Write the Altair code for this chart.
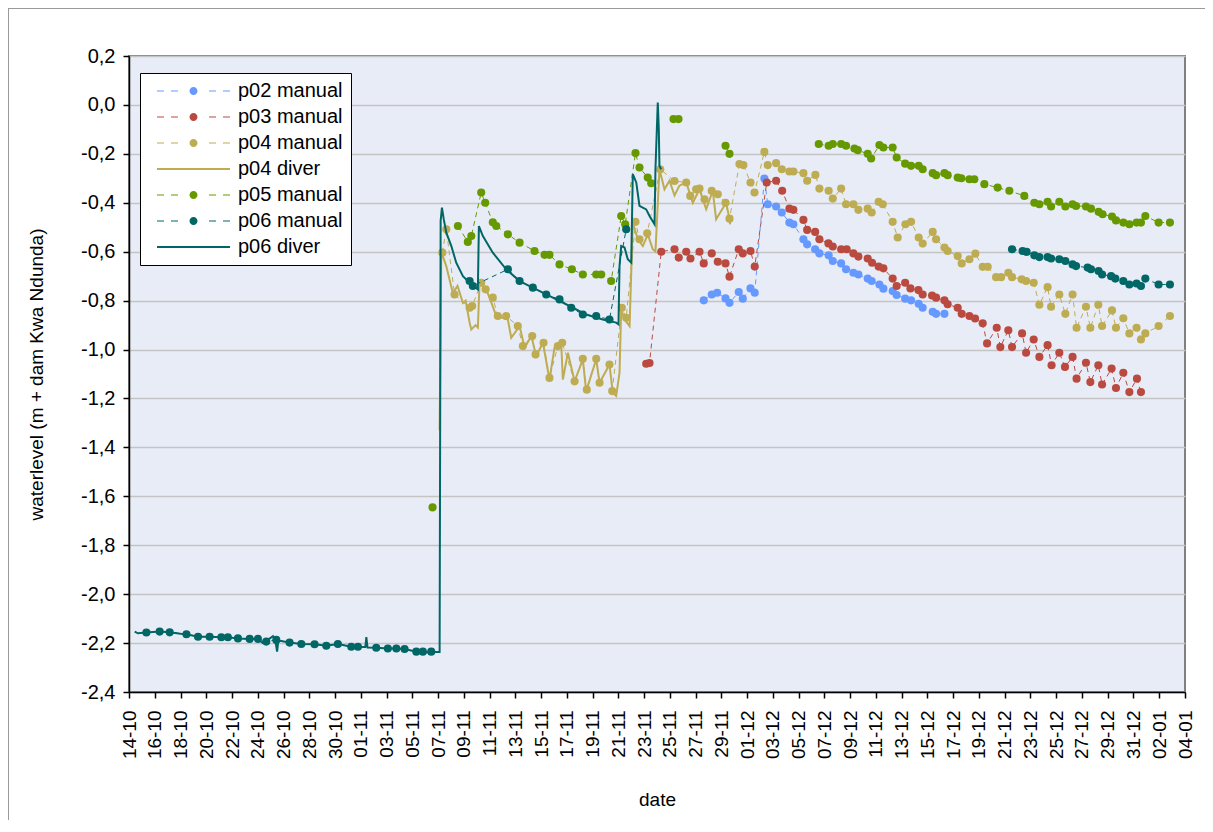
import altair as alt
import pandas as pd

START = pd.Timestamp("2007-10-14")

SERIES = ["p02 manual", "p03 manual", "p04 manual", "p04 diver", "p05 manual", "p06 manual", "p06 diver"]
COLORS = ["#6699FF", "#BA4A3F", "#BEAC52", "#BEAC52", "#669900", "#006666", "#006666"]

# (days since 14-10, waterlevel)
p02_manual = [(44.63,-0.799),(45.25,-0.775),(45.67,-0.768),(46.32,-0.791),(46.63,-0.809),(47.35,-0.765),(47.66,-0.792),
              (48.26,-0.75),(48.59,-0.768),(49.34,-0.301),(49.60,-0.406),(50.25,-0.415),(50.69,-0.44),(51.28,-0.481),
              (51.59,-0.488),(52.37,-0.549),(52.66,-0.57),(53.28,-0.59),(53.61,-0.607),(54.33,-0.615),(54.65,-0.638),
              (55.30,-0.648),(55.68,-0.672),(56.25,-0.686),(56.64,-0.693),(57.36,-0.71),(57.67,-0.72),(58.27,-0.734),
              (58.58,-0.751),(59.30,-0.761),(59.61,-0.777),(60.27,-0.792),(60.73,-0.799),(61.32,-0.813),(61.63,-0.829),
              (62.41,-0.846),(62.67,-0.854),(63.32,-0.854)]

p03_manual = [(40.16,-1.058),(40.42,-1.055),(41.33,-0.60),(42.36,-0.59),(42.69,-0.624),(43.27,-0.60),(43.60,-0.628),
              (44.30,-0.60),(44.63,-0.648),(45.25,-0.607),(45.72,-0.641),(46.32,-0.648),(46.63,-0.702),(47.35,-0.59),
              (47.66,-0.607),(48.26,-0.597),(48.59,-0.661),(49.52,-0.317),(50.25,-0.31),(50.72,-0.351),(51.28,-0.424),
              (51.59,-0.429),(52.37,-0.47),(52.66,-0.511),(53.28,-0.519),(53.61,-0.549),(54.31,-0.566),(54.65,-0.579),
              (55.30,-0.59),(55.73,-0.59),(56.25,-0.607),(56.64,-0.62),(57.36,-0.628),(57.70,-0.645),(58.21,-0.661),
              (58.58,-0.668),(59.30,-0.71),(59.61,-0.74),(60.27,-0.727),(60.68,-0.75),(61.30,-0.757),(61.63,-0.775),
              (62.36,-0.779),(62.67,-0.788),(63.32,-0.799),(63.57,-0.815),(64.35,-0.829),(64.66,-0.854),(65.26,-0.863),
              (65.70,-0.873),(66.29,-0.893),(66.63,-0.975),(67.38,-0.911),(67.66,-0.99),(68.28,-0.921),(68.57,-0.99),
              (69.35,-0.934),(69.66,-1.013),(70.25,-0.959),(70.69,-1.03),(71.33,-0.982),(71.64,-1.064),(72.24,-1.013),
              (72.68,-1.071),(73.27,-1.03),(73.58,-1.119),(74.31,-1.054),(74.65,-1.133),(75.27,-1.064),(75.56,-1.143),
              (76.30,-1.078),(76.64,-1.157),(77.21,-1.095),(77.68,-1.174),(78.27,-1.119),(78.58,-1.174)]

p04_manual = [(24.33,-0.604),(24.64,-0.508),(25.28,-0.775),(26.45,-0.829),(26.65,-0.822),(27.35,-0.727),(27.69,-0.754),
              (28.25,-0.788),(28.64,-0.863),(29.29,-0.863),(30.19,-0.904),(30.58,-0.986),(31.31,-0.945),(31.57,-1.02),
              (32.19,-0.972),(32.65,-1.116),(33.30,-0.986),(33.64,-0.972),(34.60,-1.13),(35.24,-1.038),(35.55,-1.164),
              (36.28,-1.038),(36.54,-1.136),(37.31,-1.061),(37.52,-1.17),(38.27,-0.829),(38.61,-0.87),(39.33,-0.478),
              (39.64,-0.549),(40.24,-0.525),(41.25,-0.263),(42.36,-0.311),(43.27,-0.317),(43.58,-0.372),(44.04,-0.345),
              (44.30,-0.342),(44.69,-0.386),(45.25,-0.351),(45.72,-0.365),(46.32,-0.40),(46.63,-0.465),(47.40,-0.242),
              (47.71,-0.246),(48.26,-0.317),(48.57,-0.358),(49.34,-0.192),(49.60,-0.246),(50.25,-0.238),(50.69,-0.263),
              (51.28,-0.272),(51.59,-0.272),(52.37,-0.279),(52.66,-0.31),(53.30,-0.286),(53.61,-0.342),(54.33,-0.351),
              (54.65,-0.383),(55.30,-0.342),(55.68,-0.406),(56.25,-0.406),(56.64,-0.429),(57.36,-0.424),(57.67,-0.44),
              (58.21,-0.396),(58.53,-0.406),(59.30,-0.478),(59.69,-0.542),(60.29,-0.488),(60.73,-0.478),(61.32,-0.542),
              (61.63,-0.567),(62.41,-0.519),(62.67,-0.549),(63.32,-0.583),(63.57,-0.597),(64.35,-0.618),(64.66,-0.648),
              (65.26,-0.631),(65.72,-0.608),(66.29,-0.662),(66.68,-0.662),(67.33,-0.704),(67.72,-0.704),(68.28,-0.686),
              (68.57,-0.704),(69.32,-0.713),(69.66,-0.72),(70.25,-0.727),(70.69,-0.817),(71.33,-0.745),(71.60,-0.825),
              (72.24,-0.775),(72.71,-0.854),(73.27,-0.775),(73.58,-0.911),(74.31,-0.825),(74.65,-0.911),(75.27,-0.817),
              (75.56,-0.904),(76.33,-0.84),(76.64,-0.911),(77.21,-0.872),(77.68,-0.934),(78.24,-0.911),(78.58,-0.959),
              (78.92,-0.934),(79.95,-0.904),(80.83,-0.863)]

p04_diver = [(24.12,-1.33),(24.25,-0.60),(24.64,-0.66),(25.15,-0.77),(25.51,-0.74),(25.93,-0.81),(26.14,-0.80),
             (26.45,-0.89),(26.58,-0.918),(26.91,-0.90),(27.09,-0.91),(27.22,-0.727),(27.74,-0.754),(28.08,-0.80),
             (28.52,-0.863),(29.42,-0.877),(29.68,-0.952),(30.33,-0.904),(30.72,-0.993),(31.24,-0.945),(31.62,-1.027),
             (32.14,-0.972),(32.65,-1.123),(33.04,-0.993),(33.56,-0.972),(33.69,-1.123),(34.08,-1.013),(34.60,-1.13),
             (35.24,-1.04),(35.50,-1.17),(36.28,-1.04),(36.54,-1.136),(37.31,-1.061),(37.57,-1.177),(37.83,-1.19),
             (38.09,-1.095),(38.22,-0.836),(38.48,-0.877),(38.87,-0.904),(39.12,-0.481),(39.51,-0.549),(39.90,-0.577),
             (40.29,-0.529),(40.67,-0.59),(40.88,-0.60),(41.19,-0.263),(41.58,-0.345),(41.97,-0.31),(42.36,-0.37),
             (42.74,-0.33),(43.27,-0.317),(43.78,-0.40),(44.30,-0.345),(44.82,-0.426),(45.33,-0.351),(45.59,-0.467),
             (46.37,-0.40),(46.63,-0.467),(46.68,-0.488)]

p05_manual = [(23.57,-1.645),(25.54,-0.495),(26.31,-0.56),(26.58,-0.536),(27.35,-0.358),(27.66,-0.40),(28.25,-0.48),
              (28.52,-0.495),(29.42,-0.529),(30.33,-0.563),(31.49,-0.597),(32.27,-0.613),(32.65,-0.613),(33.43,-0.652),
              (34.39,-0.672),(35.24,-0.693),(36.28,-0.693),(36.67,-0.693),(37.44,-0.72),(38.22,-0.454),(38.53,-0.488),
              (39.33,-0.197),(39.64,-0.256),(40.28,-0.297),(40.55,-0.32),(42.28,-0.058),(42.67,-0.058),(46.32,-0.167),
              (46.63,-0.20),(53.56,-0.16),(54.33,-0.167),(54.65,-0.16),(55.30,-0.16),(55.68,-0.167),(56.33,-0.178),
              (56.59,-0.185),(57.36,-0.20),(57.63,-0.219),(58.27,-0.164),(58.58,-0.174),(59.30,-0.174),(59.61,-0.215),
              (60.27,-0.24),(60.73,-0.249),(61.32,-0.249),(61.63,-0.263),(62.41,-0.279),(62.67,-0.287),(63.32,-0.279),
              (63.57,-0.287),(64.35,-0.297),(64.63,-0.30),(65.26,-0.304),(65.64,-0.304),(66.42,-0.324),(67.45,-0.338),
              (68.36,-0.351),(69.52,-0.372),(70.30,-0.40),(70.69,-0.406),(71.33,-0.396),(71.60,-0.415),(72.24,-0.396),
              (72.71,-0.415),(73.27,-0.406),(73.54,-0.413),(74.31,-0.415),(74.70,-0.424),(75.29,-0.437),(75.60,-0.447),
              (76.33,-0.456),(76.64,-0.472),(77.21,-0.481),(77.68,-0.488),(78.24,-0.481),(78.58,-0.481),(78.92,-0.454),
              (79.95,-0.481),(80.83,-0.481)]
p05_breaks = [24.5, 41.5, 44.0, 50.0]

p06_manual = [(1.35,-2.157),(2.38,-2.153),(3.16,-2.156),(4.46,-2.164),(5.36,-2.174),(6.26,-2.174),(7.17,-2.176),
              (7.68,-2.176),(8.46,-2.181),(9.37,-2.183),(10.01,-2.183),(10.66,-2.194),(11.44,-2.187),(12.47,-2.198),
              (13.38,-2.204),(14.41,-2.205),(15.32,-2.211),(16.22,-2.204),(17.26,-2.215),(17.78,-2.215),(19.20,-2.219),
              (20.10,-2.222),(20.76,-2.222),(21.40,-2.224),(22.31,-2.235),(22.82,-2.235),(23.47,-2.235),
              (26.45,-0.72),(26.70,-0.74),(29.42,-0.672),(30.33,-0.72),(31.36,-0.747),(32.40,-0.775),(33.43,-0.795),
              (34.34,-0.829),(35.24,-0.857),(36.28,-0.863),(37.31,-0.877),(38.61,-0.508),
              (68.57,-0.59),(69.39,-0.597),(69.70,-0.601),(70.30,-0.615),(70.69,-0.622),(71.33,-0.622),(71.60,-0.628),
              (72.24,-0.631),(72.71,-0.638),(73.27,-0.652),(73.54,-0.659),(74.44,-0.665),(74.70,-0.672),(75.29,-0.679),
              (75.56,-0.693),(76.26,-0.70),(76.59,-0.71),(77.21,-0.72),(77.68,-0.734),(78.24,-0.73),(78.58,-0.74),
              (78.92,-0.71),(79.95,-0.734),(80.83,-0.734)]
p06_breaks = [25.0, 50.0]

p06_diver = [(0.44,-2.153),(0.7,-2.16),(1.35,-2.157),(2.38,-2.153),(3.16,-2.156),(4.0,-2.162),(4.46,-2.164),
             (5.36,-2.174),(6.26,-2.174),(7.17,-2.176),(7.68,-2.176),(8.46,-2.181),(9.37,-2.183),(10.01,-2.183),
             (10.4,-2.2),(10.7,-2.19),(11.18,-2.172),(11.35,-2.186),(11.5,-2.235),(11.6,-2.19),(12.47,-2.198),
             (13.38,-2.204),(14.41,-2.205),(15.32,-2.211),(16.22,-2.204),(17.26,-2.215),(18.35,-2.216),(18.43,-2.176),
             (18.52,-2.218),(19.2,-2.219),(20.1,-2.222),(20.76,-2.222),(21.4,-2.224),(21.9,-2.23),(22.31,-2.235),
             (22.82,-2.238),(23.47,-2.236),(24.12,-2.236),(24.2,-0.474),(24.3,-0.42),(24.45,-0.47),(24.64,-0.522),
             (25.03,-0.577),(25.41,-0.645),(25.93,-0.70),(26.45,-0.727),(27.09,-0.754),(27.17,-0.495),(27.48,-0.536),
             (28.25,-0.604),(29.29,-0.672),(30.33,-0.72),(31.62,-0.754),(32.91,-0.788),(34.21,-0.822),(35.50,-0.857),
             (36.79,-0.877),(37.83,-0.89),(38.01,-0.897),(38.09,-0.659),(38.22,-0.577),(38.48,-0.583),(38.73,-0.631),
             (39.0,-0.645),(39.12,-0.283),(39.39,-0.317),(39.64,-0.413),(40.16,-0.427),(40.42,-0.454),(40.81,-0.488),
             (40.88,-0.263),(41.06,0.01),(41.14,-0.099),(41.19,-0.249),(41.32,-0.263)]

Y_TICKS = [-2.4, -2.2, -2.0, -1.8, -1.6, -1.4, -1.2, -1.0, -0.8, -0.6, -0.4, -0.2, 0.0, 0.2]
TICK_DATES = pd.date_range("2007-10-14", "2008-01-04", freq="2D")


def frame(name, pairs, breaks=()):
    rows = []
    for d, v in pairs:
        seg = sum(1 for b in breaks if d > b)
        rows.append({"series": name, "date": START + pd.Timedelta(days=d), "value": v, "seg": seg})
    return rows


rows = []
rows += frame("p02 manual", p02_manual)
rows += frame("p03 manual", p03_manual)
rows += frame("p04 manual", p04_manual)
rows += frame("p04 diver", p04_diver)
rows += frame("p05 manual", p05_manual, p05_breaks)
rows += frame("p06 manual", p06_manual, p06_breaks)
rows += frame("p06 diver", p06_diver)
df = pd.DataFrame(rows)

FONT = "Liberation Sans"
# legend glyphs (filled paths, 1 unit = 5 px): dashed line with a dot, or a solid line
MANUAL_PATH = ("M-0.2,-0.1H1.2V0.1H-0.2Z M2.6,-0.1H4V0.1H2.6Z M10.2,-0.1H11.6V0.1H10.2Z M13,-0.1H14.4V0.1H13Z "
               "M6.3,0A0.8,0.8 0 1,1 7.9,0A0.8,0.8 0 1,1 6.3,0Z")
DIVER_PATH = "M-0.2,-0.2H14.4V0.2H-0.2Z"
SHAPES = [DIVER_PATH if "diver" in s else MANUAL_PATH for s in SERIES]

legend = alt.Legend(
    title=None, orient="none", legendX=11, legendY=17,
    fillColor="white", strokeColor="black", padding=8,
    labelFont=FONT, labelFontSize=20, labelColor="black", labelOffset=70,
    symbolSize=100, symbolStrokeWidth=0, symbolOpacity=1, rowPadding=6,
)

color_scale = alt.Scale(domain=SERIES, range=COLORS)
color_nolegend = alt.Color("series:N", scale=color_scale, legend=None)

x = alt.X("date:T",
          scale=alt.Scale(domain=[alt.DateTime(year=2007, month=10, date=14),
                                  alt.DateTime(year=2008, month=1, date=4)]),
          axis=alt.Axis(title="date", format="%d-%m", labelAngle=-90,
                        values=[alt.DateTime(year=t.year, month=t.month, date=t.day) for t in TICK_DATES],
                        grid=False, labelPadding=12, titlePadding=32, labelFontSize=19))
y = alt.Y("value:Q",
          scale=alt.Scale(domain=[-2.4, 0.2], nice=False, zero=False),
          axis=alt.Axis(title="waterlevel (m + dam Kwa Ndunda)", values=Y_TICKS,
                        labelExpr="replace(replace(format(datum.value, '.1f'), '.', ','), '\u2212', '-')",
                        grid=True, gridColor="#C4C4C4", gridWidth=1.5, labelPadding=8, titlePadding=34,
                        labelFontSize=20))

base = alt.Chart(df)
layers = []

border = alt.Chart(pd.DataFrame({"k": [0]})).mark_rect(
    fill="white", fillOpacity=0, stroke="#9A9A9A", strokeWidth=2
).encode(x=alt.value(-121), x2=alt.value(1110), y=alt.value(-48), y2=alt.value(800))
layers.append(border)

# invisible layer that carries the legend (colour + custom glyph per series)
legend_layer = base.mark_point(filled=True, opacity=0, size=100).encode(
    x=x, y=y,
    color=alt.Color("series:N", scale=color_scale, legend=legend),
    shape=alt.Shape("series:N", scale=alt.Scale(domain=SERIES, range=SHAPES), legend=legend),
)
layers.append(legend_layer)

for name in SERIES:
    sub = base.transform_filter(alt.datum.series == name)
    if "diver" in name:
        layers.append(sub.mark_line(strokeWidth=2).encode(x=x, y=y, color=color_nolegend))
    else:
        layers.append(sub.mark_line(strokeWidth=1, strokeDash=[5, 4]).encode(
            x=x, y=y, color=color_nolegend, detail="seg:N"))
        layers.append(sub.mark_circle(size=66, opacity=1).encode(x=x, y=y, color=color_nolegend))

chart = alt.layer(*layers).properties(
    width=1056, height=636,
    padding={"left": 121, "top": 48, "right": 20, "bottom": 128},
    autosize=alt.AutoSizeParams(type="none"),
).configure_view(
    fill="#E8ECF6", stroke="#808080", strokeWidth=2
).configure_axis(
    labelFont=FONT, titleFont=FONT, labelFontSize=19, titleFontSize=19,
    labelColor="black", titleColor="black", titleFontWeight="normal",
    domainColor="black", domainWidth=1.5, tickColor="black", tickSize=6, tickWidth=1.5,
)

chart.save("out.html", embed_options={"renderer": "svg", "actions": False})
